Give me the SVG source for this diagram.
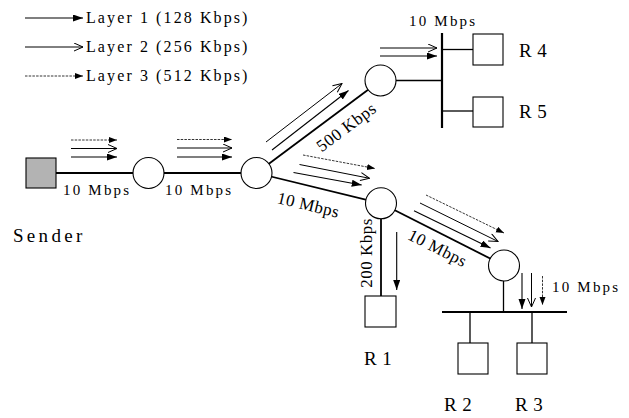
<svg xmlns="http://www.w3.org/2000/svg" width="629" height="418" viewBox="0 0 629 418">
<defs>
<marker id="fill" markerUnits="userSpaceOnUse" markerWidth="11" markerHeight="8" refX="10" refY="3.5" orient="auto"><path d="M0,0 L10,3.5 L0,7 z" fill="#000"/></marker>
<marker id="open" markerUnits="userSpaceOnUse" markerWidth="11" markerHeight="10" refX="10" refY="4.5" orient="auto"><path d="M1,0.5 L10,4.5 L1,8.5" fill="none" stroke="#000" stroke-width="1"/></marker>
<marker id="dfill" markerUnits="userSpaceOnUse" markerWidth="9" markerHeight="7" refX="8" refY="3" orient="auto"><path d="M0,0 L8,3 L0,6 z" fill="#000"/></marker>
</defs>
<style>
.link{stroke:#000;stroke-width:1.8;fill:none}
.thin{stroke:#000;stroke-width:1.3;fill:none}
.bus{stroke:#000;stroke-width:2.2;fill:none}
.node{fill:#fff;stroke:#000;stroke-width:1.1}
.sender{fill:#b3b3b3;stroke:#000;stroke-width:1.1}
.l1{stroke:#000;stroke-width:1.1;fill:none;marker-end:url(#fill)}
.l2{stroke:#000;stroke-width:1;fill:none;marker-end:url(#open)}
.l3{stroke:#000;stroke-width:0.8;fill:none;stroke-dasharray:2.5 1.2;marker-end:url(#dfill)}
.t{font-family:'Liberation Serif','Times New Roman',Times,'DejaVu Serif',serif;fill:#000}
.leg{font-size:16px;letter-spacing:2.1px}
.lab{font-size:15px;letter-spacing:2.2px}
.rot{font-size:17px;letter-spacing:0.5px;text-anchor:middle}
.big{font-size:19px;letter-spacing:3.3px}
.rl{font-size:19px;letter-spacing:5.5px}
</style>

<g id="legend" font-family="Liberation Serif, Times New Roman, DejaVu Serif, serif">
<line class="l1" x1="25" y1="18" x2="83" y2="18"/>
<text class="t leg" x="86" y="23">Layer 1 (128 Kbps)</text>
<line class="l2" x1="25" y1="47" x2="83" y2="47"/>
<text class="t leg" x="86" y="52">Layer 2 (256 Kbps)</text>
<line class="l3" x1="25" y1="76" x2="83" y2="76"/>
<text class="t leg" x="86" y="81">Layer 3 (512 Kbps)</text>
</g>

<g id="connectors">
<line class="link" x1="56" y1="173" x2="148.5" y2="173"/>
<line class="link" x1="148.5" y1="173" x2="256.5" y2="173"/>
<line class="link" x1="256.5" y1="173" x2="380.5" y2="80.5"/>
<line class="link" x1="256.5" y1="173" x2="381" y2="203.3"/>
<line class="thin" x1="380.5" y1="80.5" x2="442" y2="80.5"/>
<line class="bus" x1="442" y1="33" x2="442" y2="128"/>
<line class="thin" x1="442" y1="49.5" x2="473" y2="49.5"/>
<line class="thin" x1="442" y1="111" x2="473" y2="111"/>
<line class="link" x1="381" y1="203.3" x2="381" y2="296"/>
<line class="link" x1="381" y1="203.3" x2="504" y2="265.5"/>
<line class="thin" x1="503.5" y1="265.5" x2="503.5" y2="312"/>
<line class="bus" x1="442" y1="312" x2="567" y2="312"/>
<line class="thin" x1="470" y1="312" x2="470" y2="343"/>
<line class="thin" x1="532" y1="312" x2="532" y2="343"/>

<line class="l3" x1="71" y1="140" x2="117" y2="140"/>
<line class="l2" x1="71" y1="148.5" x2="117" y2="148.5"/>
<line class="l1" x1="71" y1="157" x2="117" y2="157"/>
<line class="l3" x1="177" y1="139.5" x2="232" y2="139.5"/>
<line class="l2" x1="177" y1="148" x2="232" y2="148"/>
<line class="l1" x1="177" y1="157" x2="232" y2="157"/>
<line class="l2" x1="266" y1="142" x2="342" y2="83.5"/>
<line class="l1" x1="272" y1="150" x2="348.5" y2="90.5"/>
<line class="l3" x1="303" y1="155" x2="375" y2="168.5"/>
<line class="l2" x1="299.5" y1="164.5" x2="369.5" y2="178.3"/>
<line class="l1" x1="293.5" y1="172.5" x2="361.7" y2="185"/>
<line class="l3" x1="426" y1="195" x2="504" y2="233"/>
<line class="l2" x1="420" y1="203" x2="498" y2="241.5"/>
<line class="l1" x1="414" y1="210.7" x2="490.5" y2="248"/>
<line class="l1" x1="396.7" y1="232" x2="396.7" y2="290"/>
<line class="l1" x1="522" y1="273" x2="522" y2="309"/>
<line class="l2" x1="531.5" y1="273" x2="531.5" y2="307"/>
<line class="l3" x1="542.5" y1="276" x2="542.5" y2="305"/>
<line class="l2" x1="380" y1="48" x2="437" y2="48"/>
<line class="l1" x1="380" y1="56" x2="437" y2="56"/>
</g>

<g id="sender"><rect class="sender" x="26" y="158" width="30" height="30"/><text class="t big" x="13" y="242">Sender</text></g>
<g id="router1"><circle class="node" cx="148.5" cy="173" r="15.5"/></g>
<g id="router2"><circle class="node" cx="256.5" cy="173" r="15.5"/></g>
<g id="router3"><circle class="node" cx="380.5" cy="80.5" r="15.5"/></g>
<g id="router4"><circle class="node" cx="381" cy="203.3" r="15.5"/></g>
<g id="router5"><circle class="node" cx="504" cy="265.5" r="15.5"/></g>
<g id="R4"><rect class="node" x="473" y="34" width="30" height="31"/><text class="t rl" x="519" y="57">R4</text></g>
<g id="R5"><rect class="node" x="473" y="97" width="30" height="30"/><text class="t rl" x="519" y="118">R5</text></g>
<g id="R1"><rect class="node" x="365" y="296" width="31" height="31"/><text class="t rl" x="364" y="365">R1</text></g>
<g id="R2"><rect class="node" x="458" y="343" width="30" height="31"/><text class="t rl" x="444" y="411">R2</text></g>
<g id="R3"><rect class="node" x="517" y="343" width="30" height="31"/><text class="t rl" x="515" y="411">R3</text></g>

<g id="labels">
<text class="t lab" x="63" y="195">10 Mbps</text>
<text class="t lab" x="165" y="195">10 Mbps</text>
<text class="t lab" x="409" y="26">10 Mbps</text>
<text class="t lab" x="552" y="292">10 Mbps</text>
<text class="t rot" transform="translate(349.7 131.6) rotate(-36.7)">500 Kbps</text>
<text class="t rot" transform="translate(307 210.4) rotate(13.5)">10 Mbps</text>
<text class="t rot" transform="translate(435 253) rotate(26.9)">10 Mbps</text>
<text class="t rot" transform="translate(372 253) rotate(-90)">200 Kbps</text>
</g>
</svg>
